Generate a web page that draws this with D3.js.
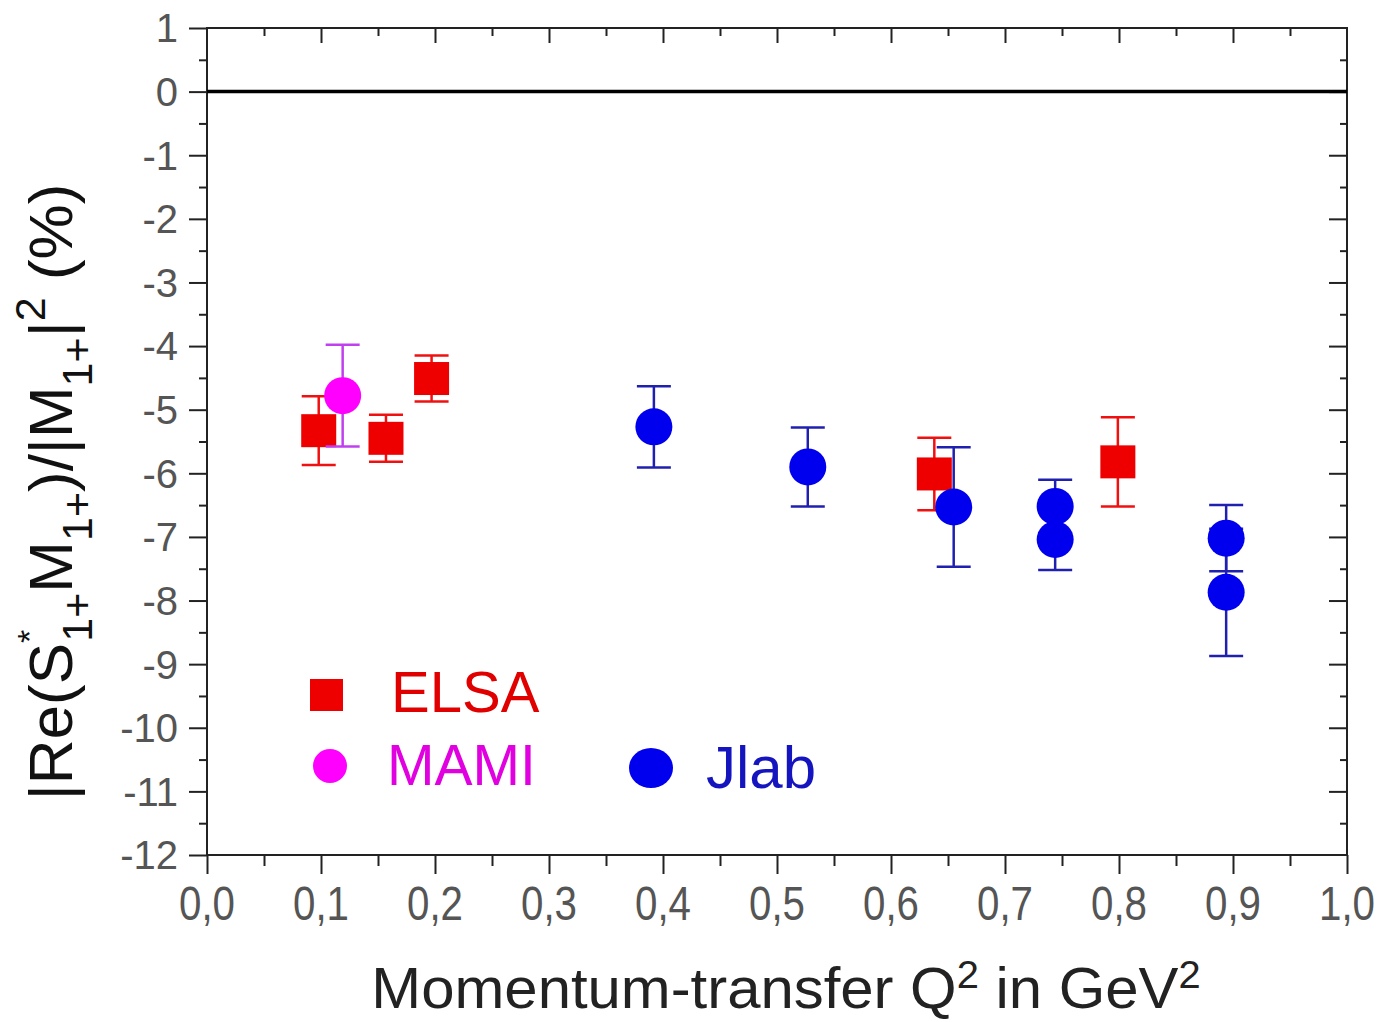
<!DOCTYPE html>
<html>
<head>
<meta charset="utf-8">
<script src="https://cdn.jsdelivr.net/npm/d3@7"></script>
<style>
  html, body { margin: 0; padding: 0; background: #fff; }
  svg { display: block; font-family: "Liberation Sans", Arial, sans-serif; }
</style>
</head>
<body>
<svg id="chart" width="1381" height="1022"></svg>
<script>
// ---- data ----
const elsaQ2   = [0.098, 0.157, 0.197, 0.638, 0.799];
const elsaVal  = [-5.33, -5.45, -4.51, -6.01, -5.82];
const elsaErr  = [0.54, 0.37, 0.36, 0.57, 0.70];

const mamiQ2   = [0.119];
const mamiVal  = [-4.78];
const mamiErr  = [0.80];

const jlabQ2   = [0.392, 0.527, 0.655, 0.744, 0.744, 0.894, 0.894];
const jlabVal  = [-5.27, -5.90, -6.53, -6.52, -7.04, -7.02, -7.87];
const jlabErr  = [0.64, 0.62, 0.94, 0.42, 0.48, 0.52, 1.00];

const xTicks = [0, 0.1, 0.2, 0.3, 0.4, 0.5, 0.6, 0.7, 0.8, 0.9, 1.0];
const xMinor = [0.05, 0.15, 0.25, 0.35, 0.45, 0.55, 0.65, 0.75, 0.85, 0.95];
const yTicks = [1, 0, -1, -2, -3, -4, -5, -6, -7, -8, -9, -10, -11, -12];
const yMinor = [0.5, -0.5, -1.5, -2.5, -3.5, -4.5, -5.5, -6.5, -7.5, -8.5, -9.5, -10.5, -11.5];

const legendNames = ["ELSA", "MAMI", "Jlab"];

// ---- layout ----
const svg = d3.select("#chart");
const x = d3.scaleLinear().domain([0, 1]).range([207, 1347]);
const y = d3.scaleLinear().domain([-12, 1]).range([855, 28]);
const x0 = x.range()[0], x1 = x.range()[1], yB = y.range()[0], yT = y.range()[1];

const tickCol = "#222";

function styleAxis(g) {
  g.select(".domain").remove();
  g.selectAll("line").attr("stroke", tickCol).attr("stroke-width", 2);
  g.selectAll("text").remove();
}

// bottom
svg.append("g").attr("transform", `translate(0,${yB})`)
  .call(d3.axisBottom(x).tickValues(xTicks).tickSize(19)).call(styleAxis);
svg.append("g").attr("transform", `translate(0,${yB})`)
  .call(d3.axisBottom(x).tickValues(xMinor).tickSize(11)).call(styleAxis);
// top (inward)
svg.append("g").attr("transform", `translate(0,${yT})`)
  .call(d3.axisTop(x).tickValues(xTicks.slice(1, -1)).tickSize(-15)).call(styleAxis);
svg.append("g").attr("transform", `translate(0,${yT})`)
  .call(d3.axisTop(x).tickValues(xMinor).tickSize(-8)).call(styleAxis);
// left (outward)
svg.append("g").attr("transform", `translate(${x0},0)`)
  .call(d3.axisLeft(y).tickValues(yTicks).tickSize(18)).call(styleAxis);
svg.append("g").attr("transform", `translate(${x0},0)`)
  .call(d3.axisLeft(y).tickValues(yMinor).tickSize(8)).call(styleAxis);
// right (inward)
svg.append("g").attr("transform", `translate(${x1},0)`)
  .call(d3.axisRight(y).tickValues(yTicks.slice(1, -1)).tickSize(-18)).call(styleAxis);
svg.append("g").attr("transform", `translate(${x1},0)`)
  .call(d3.axisRight(y).tickValues(yMinor).tickSize(-7)).call(styleAxis);

// frame
svg.append("rect").attr("x", x0).attr("y", yT).attr("width", x1 - x0).attr("height", yB - yT)
  .attr("fill", "none").attr("stroke", tickCol).attr("stroke-width", 2);

// zero line
svg.append("line").attr("x1", x0).attr("x2", x1).attr("y1", y(0)).attr("y2", y(0))
  .attr("stroke", "#000").attr("stroke-width", 3.5);

// tick labels
svg.append("g").selectAll("text").data(xTicks).join("text")
  .attr("transform", d => `translate(${x(d)},920) scale(0.84,1)`)
  .attr("text-anchor", "middle").attr("font-size", 48).attr("fill", "#555")
  .text(d => d3.format(".1f")(d).replace(".", ","));
svg.append("g").selectAll("text").data(yTicks).join("text")
  .attr("x", 178).attr("y", d => y(d)).attr("dy", "0.36em")
  .attr("text-anchor", "end").attr("font-size", 40).attr("fill", "#555")
  .text(d => String(d));

// axis titles
const xt = svg.append("text").attr("transform", "translate(786,1008) scale(1.05,1)")
  .attr("text-anchor", "middle").attr("font-size", 57).attr("fill", "#222");
xt.append("tspan").text("Momentum-transfer Q");
xt.append("tspan").attr("font-size", 38).attr("dy", -20).text("2");
xt.append("tspan").attr("dy", 20).text(" in GeV");
xt.append("tspan").attr("font-size", 38).attr("dy", -20).text("2");

const yt = svg.append("text").attr("transform", "translate(72,492) rotate(-90)")
  .attr("text-anchor", "middle").attr("font-size", 62).attr("fill", "#111");
yt.append("tspan").text("|Re(S");
yt.append("tspan").attr("font-size", 34).attr("dy", -31).text("*");
yt.append("tspan").attr("font-size", 43).attr("dx", -12).attr("dy", 51).text("1+");
yt.append("tspan").attr("dy", -20).text("M");
yt.append("tspan").attr("font-size", 43).attr("dy", 20).text("1+");
yt.append("tspan").attr("dy", -20).text(")/|M");
yt.append("tspan").attr("font-size", 43).attr("dy", 20).text("1+");
yt.append("tspan").attr("dy", -20).text("|");
yt.append("tspan").attr("font-size", 43).attr("dy", -27).text("2");
yt.append("tspan").attr("dy", 27).text(" (%)");

// error bars helper
function errorBars(q, v, e, color, w) {
  const g = svg.append("g").attr("stroke", color).attr("stroke-width", w);
  const idx = d3.range(q.length);
  g.selectAll(".v").data(idx).join("line")
    .attr("x1", i => x(q[i])).attr("x2", i => x(q[i]))
    .attr("y1", i => y(v[i] + e[i])).attr("y2", i => y(v[i] - e[i]));
  g.selectAll(".t").data(idx).join("line")
    .attr("x1", i => x(q[i]) - 17).attr("x2", i => x(q[i]) + 17)
    .attr("y1", i => y(v[i] + e[i])).attr("y2", i => y(v[i] + e[i]));
  g.selectAll(".b").data(idx).join("line")
    .attr("x1", i => x(q[i]) - 17).attr("x2", i => x(q[i]) + 17)
    .attr("y1", i => y(v[i] - e[i])).attr("y2", i => y(v[i] - e[i]));
}

// ELSA
errorBars(elsaQ2, elsaVal, elsaErr, "#f01010", 2.5);
svg.append("g").selectAll("rect").data(d3.range(elsaQ2.length)).join("rect")
  .attr("x", i => x(elsaQ2[i]) - 17.5).attr("y", i => y(elsaVal[i]) - 16.5)
  .attr("width", 35).attr("height", 33).attr("fill", "#ee0000");

// MAMI
errorBars(mamiQ2, mamiVal, mamiErr, "#c040f0", 2.5);
svg.append("g").selectAll("circle").data(d3.range(mamiQ2.length)).join("circle")
  .attr("cx", i => x(mamiQ2[i])).attr("cy", i => y(mamiVal[i])).attr("r", 18.5)
  .attr("fill", "#ff00ff");

// Jlab
errorBars(jlabQ2, jlabVal, jlabErr, "#2020b0", 2.5);
svg.append("g").selectAll("circle").data(d3.range(jlabQ2.length)).join("circle")
  .attr("cx", i => x(jlabQ2[i])).attr("cy", i => y(jlabVal[i])).attr("r", 18.5)
  .attr("fill", "#0000ee");

// legend
const lg = svg.append("g");
lg.append("rect").attr("x", 310).attr("y", 679).attr("width", 33).attr("height", 32).attr("fill", "#ee0000");
lg.append("text").attr("x", 391).attr("y", 712).attr("font-size", 58).attr("fill", "#e00000").text(legendNames[0]);
lg.append("circle").attr("cx", 330).attr("cy", 766).attr("r", 17).attr("fill", "#ff00ff");
lg.append("text").attr("x", 387).attr("y", 785).attr("font-size", 57).attr("fill", "#e000e0").text(legendNames[1]);
lg.append("ellipse").attr("cx", 651).attr("cy", 768).attr("rx", 22).attr("ry", 20).attr("fill", "#0000ee");
lg.append("text").attr("x", 706).attr("y", 788).attr("font-size", 60).attr("fill", "#1515c0").text(legendNames[2]);
</script>
</body>
</html>
